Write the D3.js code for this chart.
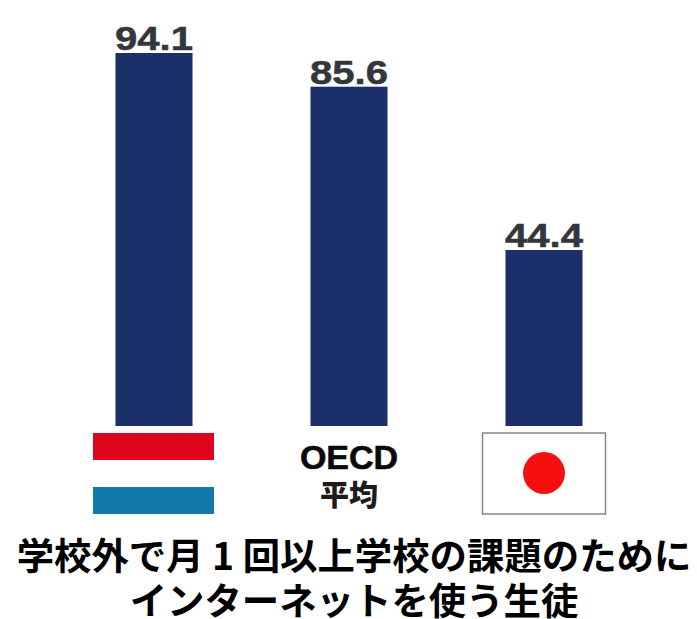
<!DOCTYPE html>
<html lang="ja">
<head>
<meta charset="utf-8">
<script src="https://cdn.jsdelivr.net/npm/d3@7"></script>
<style>
  html, body { margin: 0; padding: 0; background: #fff; }
  svg { display: block; }
</style>
</head>
<body>
<svg id="chart" width="697" height="619"></svg>
<script>
const categories = ["オランダ", "OECD平均", "日本"];
const values = [94.1, 85.6, 44.4];
const valueLabels = ["94.1", "85.6", "44.4"];
const oecdLabel = ["OECD", "平均"];
const titleLines = ["学校外で月 1 回以上学校の課題のために", "インターネットを使う生徒"];

const svg = d3.select("#chart");
const cjk = "'Noto Sans CJK JP', sans-serif";
const latin = "'Liberation Sans', Arial, sans-serif";
const baseline = 426;

const x = d3.scaleBand().domain(categories).range([57, 641]).paddingInner(0.605).paddingOuter(0.3);
const y = d3.scaleLinear().domain([0, 94.1]).range([baseline, 53]);
const center = name => x(name) + x.bandwidth() / 2;

// Bars
svg.selectAll("rect.bar")
  .data(values)
  .join("rect")
  .attr("class", "bar")
  .attr("x", (d, i) => x(categories[i]))
  .attr("y", d => y(d))
  .attr("width", x.bandwidth())
  .attr("height", d => baseline - y(d))
  .attr("fill", "#1b2f6a");

// Value labels above each bar
svg.selectAll("text.value")
  .data(values)
  .join("text")
  .attr("class", "value")
  .attr("x", (d, i) => center(categories[i]))
  .attr("y", d => y(d) - 3)
  .attr("text-anchor", "middle")
  .attr("font-family", latin)
  .attr("font-weight", 700)
  .attr("font-size", 33)
  .attr("fill", "#33373d")
  .attr("stroke", "#33373d")
  .attr("stroke-width", 0.5)
  .attr("textLength", 78)
  .attr("lengthAdjust", "spacingAndGlyphs")
  .text((d, i) => valueLabels[i]);

// Netherlands flag: red and blue stripes on the page background
const nl = svg.append("g");
nl.append("rect").attr("x", 93).attr("y", 433).attr("width", 121).attr("height", 27).attr("fill", "#e0051f");
nl.append("rect").attr("x", 93).attr("y", 487).attr("width", 121).attr("height", 27).attr("fill", "#1379ad");

// OECD average label
const oecdX = center(categories[1]);
svg.append("text")
  .attr("x", oecdX).attr("y", 468.5)
  .attr("text-anchor", "middle")
  .attr("font-family", latin)
  .attr("font-weight", 700).attr("font-size", 34).attr("fill", "#0a0a0a")
  .attr("stroke", "#0a0a0a").attr("stroke-width", 0.6)
  .text(oecdLabel[0]);
svg.append("text")
  .attr("x", oecdX).attr("y", 506)
  .attr("text-anchor", "middle")
  .attr("font-family", cjk)
  .attr("font-weight", 900).attr("font-size", 29).attr("fill", "#1c1c1c")
  .text(oecdLabel[1]);

// Japan flag
const jp = svg.append("g");
jp.append("rect").attr("x", 482.5).attr("y", 433).attr("width", 123).attr("height", 81)
  .attr("fill", "#fff").attr("stroke", "#85878a").attr("stroke-width", 1.5);
jp.append("circle").attr("cx", 544).attr("cy", 473).attr("r", 21).attr("fill", "#f5100f");

// Two-line title below the chart
const title = svg.append("text")
  .attr("class", "title")
  .attr("text-anchor", "middle")
  .attr("font-family", cjk)
  .attr("font-weight", 700)
  .attr("font-size", 37.4)
  .attr("fill", "#000");
title.selectAll("tspan")
  .data(titleLines)
  .join("tspan")
  .attr("x", 354)
  .attr("y", (d, i) => 570 + i * 45)
  .text(d => d);
</script>
</body>
</html>
